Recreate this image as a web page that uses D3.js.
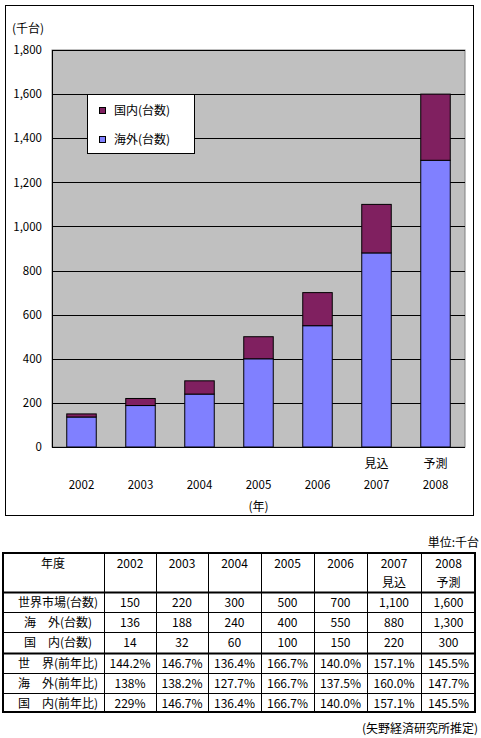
<html>
<head>
<meta charset="utf-8">
<script src="https://d3js.org/d3.v7.min.js"></script>
<style>
  body { margin: 0; background: #fff; }
  svg text { font-family: "Noto Sans CJK JP", sans-serif; fill: #000; }
</style>
</head>
<body>
<svg id="chart" width="481" height="738"></svg>
<script>
// data
const years = ["2002", "2003", "2004", "2005", "2006", "2007", "2008"];
const yearNotes = ["", "", "", "", "", "見込", "予測"];
const overseas = [136, 188, 240, 400, 550, 880, 1300];
const domestic = [14, 32, 60, 100, 150, 220, 300];
const world = [150, 220, 300, 500, 700, 1100, 1600];
const worldYoY = ["144.2%", "146.7%", "136.4%", "166.7%", "140.0%", "157.1%", "145.5%"];
const overseasYoY = ["138%", "138.2%", "127.7%", "166.7%", "137.5%", "160.0%", "147.7%"];
const domesticYoY = ["229%", "146.7%", "136.4%", "166.7%", "140.0%", "157.1%", "145.5%"];
const yTicks = [0, 200, 400, 600, 800, 1000, 1200, 1400, 1600, 1800];

const svg = d3.select("#chart");
const C_DOM = "#802060", C_OVS = "#8080ff";

// chart frame
svg.append("rect").attr("x", 5.5).attr("y", 5.5).attr("width", 468).attr("height", 510)
  .attr("fill", "#fff").attr("stroke", "#000");

const L = 52, R = 465, T = 50, B = 447;
const x = d3.scaleBand().domain(years).range([L, R]).paddingInner(0.5).paddingOuter(0.25);
const y = d3.scaleLinear().domain([0, 1800]).range([B, T]);

svg.append("rect").attr("x", L).attr("y", T).attr("width", R - L).attr("height", B - T)
  .attr("fill", "#c0c0c0").attr("stroke", "#808080");

svg.append("g").selectAll("line").data(yTicks.slice(1)).join("line")
  .attr("x1", L).attr("x2", R)
  .attr("y1", d => Math.round(y(d)) + 0.5).attr("y2", d => Math.round(y(d)) + 0.5)
  .attr("stroke", "#000");

const yAxis = svg.append("g").attr("transform", `translate(${L},0)`)
  .call(d3.axisLeft(y).tickValues(yTicks).tickFormat(d3.format(",")).tickSize(0).tickPadding(10));
yAxis.select(".domain").attr("stroke", "#000");
yAxis.selectAll("text").attr("font-size", 11.5).attr("font-family", "'Noto Sans CJK JP', sans-serif");

svg.append("line").attr("x1", L).attr("x2", R).attr("y1", B + 0.5).attr("y2", B + 0.5).attr("stroke", "#000");

// stacked bars
const stack = years.map((yr, i) => ({ yr, o: overseas[i], d: domestic[i] }));
const bars = svg.append("g");
bars.selectAll("rect.o").data(stack).join("rect").attr("class", "o")
  .attr("x", d => x(d.yr)).attr("width", x.bandwidth())
  .attr("y", d => y(d.o)).attr("height", d => y(0) - y(d.o))
  .attr("fill", C_OVS).attr("stroke", "#000");
bars.selectAll("rect.d").data(stack).join("rect").attr("class", "d")
  .attr("x", d => x(d.yr)).attr("width", x.bandwidth())
  .attr("y", d => y(d.o + d.d)).attr("height", d => y(d.o) - y(d.o + d.d))
  .attr("fill", C_DOM).attr("stroke", "#000");

// x labels
const cx = d => x(d) + x.bandwidth() / 2;
svg.append("g").selectAll("text").data(years).join("text")
  .attr("x", cx).attr("y", 489).attr("text-anchor", "middle").attr("font-size", 11.5).text(d => d);
svg.append("g").selectAll("text").data(years.filter((d, i) => yearNotes[i])).join("text")
  .attr("x", cx).attr("y", 468).attr("text-anchor", "middle").attr("font-size", 12)
  .text(d => yearNotes[years.indexOf(d)]);
svg.append("text").attr("x", cx("2005")).attr("y", 511).attr("text-anchor", "middle").attr("font-size", 12).text("(年)");
svg.append("text").attr("x", 12).attr("y", 33).attr("font-size", 12).text("(千台)");

// legend
const lg = svg.append("g").attr("transform", "translate(87,94)");
lg.append("rect").attr("x", 0.5).attr("y", 0.5).attr("width", 107).attr("height", 59).attr("fill", "#fff").attr("stroke", "#000");
[["国内(台数)", C_DOM, 17], ["海外(台数)", C_OVS, 46]].forEach(([t, c, yy]) => {
  lg.append("rect").attr("x", 12.5).attr("y", yy - 3.5).attr("width", 6).attr("height", 6).attr("fill", c).attr("stroke", "#000");
  lg.append("text").attr("x", 27).attr("y", yy + 4).attr("font-size", 12).text(t);
});

// table
const colX = [2, 104, 156, 208, 261, 314, 367, 421, 476];
const rowY = [552, 592, 612, 632, 653, 673, 693, 713];
const rows = [
  ["世界市場(台数)", world.map(d3.format(","))],
  ["海　外(台数)", overseas.map(d3.format(","))],
  ["国　内(台数)", domestic.map(d3.format(","))],
  ["世　界(前年比)", worldYoY],
  ["海　外(前年比)", overseasYoY],
  ["国　内(前年比)", domesticYoY]
];
const tb = svg.append("g");
svg.append("text").attr("x", 479).attr("y", 547).attr("text-anchor", "end").attr("font-size", 12).text("単位:千台");

// grid lines
tb.selectAll("line.v").data(colX.slice(1, -1)).join("line").attr("class", "v")
  .attr("x1", d => d + 0.5).attr("x2", d => d + 0.5).attr("y1", rowY[0]).attr("y2", rowY[7]).attr("stroke", "#000");
tb.selectAll("line.h").data(rowY.slice(1, -1)).join("line").attr("class", "h")
  .attr("x1", colX[0]).attr("x2", colX[8]).attr("y1", d => d + 0.5).attr("y2", d => d + 0.5)
  .attr("stroke", "#000").attr("stroke-width", (d, i) => (i === 0 || i === 3) ? 2 : 1);
tb.append("rect").attr("x", colX[0] + 1).attr("y", rowY[0] + 1).attr("width", colX[8] - colX[0] - 2).attr("height", rowY[7] - rowY[0] - 2)
  .attr("fill", "none").attr("stroke", "#000").attr("stroke-width", 2);

const mid = i => (colX[i] + colX[i + 1]) / 2;
tb.append("text").attr("x", mid(0)).attr("y", 568).attr("text-anchor", "middle").attr("font-size", 12).text("年度");
years.forEach((yr, i) => {
  tb.append("text").attr("x", mid(i + 1)).attr("y", 568).attr("text-anchor", "middle").attr("font-size", 12).text(yr);
  if (yearNotes[i]) tb.append("text").attr("x", mid(i + 1)).attr("y", 587).attr("text-anchor", "middle").attr("font-size", 12).text(yearNotes[i]);
});
rows.forEach(([label, vals], r) => {
  const ty = (rowY[r + 1] + rowY[r + 2]) / 2 + 4.5;
  tb.append("text").attr("x", mid(0) + 5).attr("y", ty).attr("text-anchor", "middle").attr("font-size", 12).text(label);
  vals.forEach((v, i) => {
    tb.append("text").attr("x", mid(i + 1)).attr("y", ty).attr("text-anchor", "middle").attr("font-size", 12).text(v);
  });
});
svg.append("text").attr("x", 478).attr("y", 733).attr("text-anchor", "end").attr("font-size", 12).text("(矢野経済研究所推定)");
</script>
</body>
</html>
